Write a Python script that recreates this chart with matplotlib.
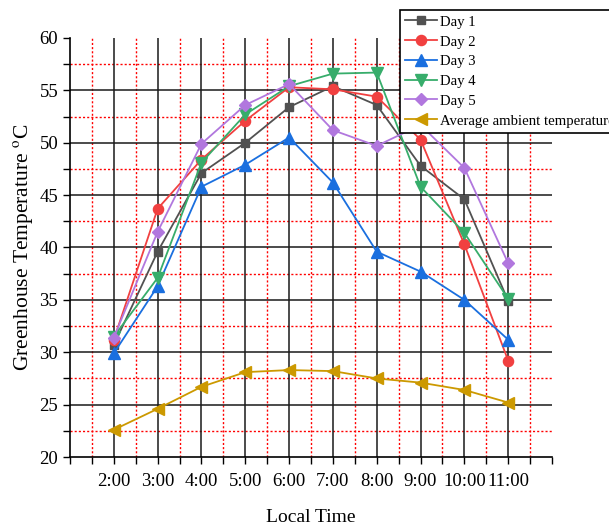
import matplotlib
matplotlib.use("Agg")
import matplotlib.pyplot as plt
import numpy as np

plt.rcParams['font.family'] = ['Liberation Serif', 'DejaVu Serif']
plt.rcParams['mathtext.fontset'] = 'stix'

times = ["2:00", "3:00", "4:00", "5:00", "6:00", "7:00", "8:00", "9:00", "10:00", "11:00"]
day1 = [30.7, 39.6, 47.1, 50.0, 53.4, 55.4, 53.6, 47.8, 44.6, 34.9]
day2 = [31.2, 43.7, 48.4, 52.1, 55.3, 55.1, 54.4, 50.3, 40.3, 29.2]
day3 = [29.9, 36.3, 45.8, 47.9, 50.5, 46.2, 39.6, 37.7, 35.0, 31.2]
day4 = [31.5, 37.1, 48.1, 52.7, 55.4, 56.6, 56.7, 45.8, 41.4, 35.1]
day5 = [31.4, 41.5, 49.9, 53.6, 55.6, 51.2, 49.7, 51.7, 47.6, 38.5]
ambient = [22.6, 24.6, 26.7, 28.1, 28.3, 28.2, 27.5, 27.1, 26.4, 25.2]

series = [
    ("Day 1", day1, "#515151", "s", 6.3),
    ("Day 2", day2, "#F14040", "o", 7.3),
    ("Day 3", day3, "#1A6FDF", "^", 8.3),
    ("Day 4", day4, "#37AD6B", "v", 8.3),
    ("Day 5", day5, "#B177DE", "D", 6.2),
    ("Average ambient temperature", ambient, "#CC9900", "<", 8.3),
]

fig = plt.figure(figsize=(6.09, 5.27), dpi=100)
ax = fig.add_axes([70/609, 1-457/527, (552-70)/609, (457-38)/527])

x = np.arange(2, 2 + len(times))
ax.set_xlim(1, 12)
ax.set_ylim(20, 60)

# grids
for xv in np.arange(1.5, 12, 1.0):
    ax.axvline(xv, color='red', lw=1.0, ls=(0, (1.5, 1.5)), zorder=1)
for yv in np.arange(22.5, 60, 5.0):
    ax.axhline(yv, color='red', lw=1.0, ls=(0, (1.5, 1.5)), zorder=1)
for xv in range(2, 12):
    ax.axvline(xv, color='#1a1a1a', lw=1.1, zorder=1.5)
for yv in range(25, 60, 5):
    ax.axhline(yv, color='#1a1a1a', lw=1.1, zorder=1.5)

handles = []
for name, vals, col, mk, ms in series:
    h, = ax.plot(x, vals, color=col, marker=mk, markersize=ms, lw=1.3, label=name, zorder=3)
    handles.append(h)

ax.set_xticks(x)
ax.set_xticklabels(times)
ax.set_xticks(np.arange(1, 12.01, 0.5), minor=True)
ax.set_yticks(np.arange(20, 61, 5))
ax.set_yticks(np.arange(22.5, 60, 5), minor=True)
ax.tick_params(axis='both', which='both', direction='out', length=5, width=1.0, labelsize=13.5)
ax.tick_params(axis='x', which='major', pad=6.5)
ax.spines['top'].set_visible(False)
ax.spines['right'].set_visible(False)
ax.spines['left'].set_linewidth(1.2)
ax.spines['bottom'].set_linewidth(1.2)

ax.set_xlabel("Local Time", fontsize=14, labelpad=14)
ax.set_ylabel(r"Greenhouse Temperature $^{\mathrm{o}}$C", fontsize=15.5)
ax.yaxis.set_label_coords(-0.072, 0.5)

leg = fig.legend(handles=handles, loc='upper left', bbox_to_anchor=(400/609, 1-10/527),
                 fontsize=10.6, frameon=True, fancybox=False, edgecolor='black',
                 framealpha=1.0, handlelength=2.2, handletextpad=0.2, borderpad=0.32,
                 labelspacing=0.38, borderaxespad=0, handleheight=0.9)
leg.get_frame().set_linewidth(1.2)
leg.set_zorder(10)

fig.savefig("out.png", dpi=100)
